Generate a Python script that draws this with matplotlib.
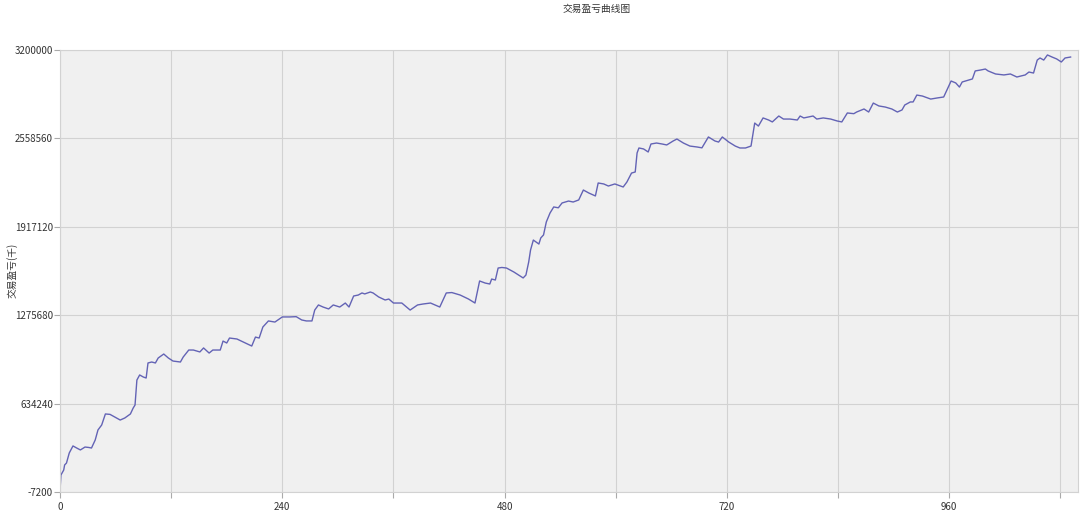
import matplotlib
matplotlib.use("Agg")
import matplotlib.pyplot as plt
from matplotlib.ticker import MultipleLocator

plt.rcParams['font.family'] = ['Noto Sans CJK SC', 'DejaVu Sans']

title = "交易盈亏曲线图"
ylabel = "交易盈亏(千)"

x_ticks = [0, 240, 480, 720, 960]
y_ticks = [-7200, 634240, 1275680, 1917120, 2558560, 3200000]

trade_idx = [
    0, 1, 4, 5, 7, 10, 14, 18, 22, 27, 31, 34, 38, 41, 45, 49, 54, 59, 65, 70,
    76, 79, 81, 83, 86, 90, 93, 95, 99, 103, 106, 112, 117, 122, 130, 133, 139, 144, 151, 155,
    161, 165, 173, 176, 180, 183, 191, 198, 207, 211, 215, 219, 225, 232, 240, 248, 255, 261, 266, 272,
    275, 279, 284, 290, 295, 302, 308, 312, 317, 322, 326, 329, 335, 338, 344, 351, 355, 360, 369, 378,
    386, 392, 400, 410, 417, 423, 432, 441, 448, 453, 459, 464, 466, 470, 473, 477, 482, 490, 500, 503,
    506, 508, 511, 517, 519, 522, 525, 529, 533, 538, 542, 549, 554, 560, 565, 571, 578, 581, 587, 592,
    599, 608, 612, 617, 621, 623, 625, 630, 635, 638, 644, 650, 655, 662, 666, 673, 680, 688, 693, 700,
    707, 711, 715, 722, 729, 734, 740, 746, 750, 754, 759, 765, 769, 776, 781, 788, 796, 799, 803, 808,
    813, 817, 824, 832, 839, 844, 850, 857, 860, 868, 873, 878, 884, 891, 898, 904, 909, 912, 918, 921,
    925, 931, 940, 947, 954, 962, 967, 971, 974, 981, 985, 988, 994, 999, 1002, 1010, 1019, 1026, 1033, 1042,
    1046, 1051, 1055, 1058, 1062, 1066, 1071, 1076, 1081, 1085, 1091,
]

pnl = [
    0, 116000, 152000, 189000, 203000, 276000, 327000, 312000, 298000, 319000,
    316000, 312000, 370000, 443000, 479000, 559000, 556000, 537000, 515000, 530000,
    559000, 602000, 624000, 805000, 842000, 827000, 820000, 929000, 936000, 929000,
    965000, 994000, 965000, 943000, 936000, 972000, 1023000, 1023000, 1009000, 1038000,
    1001000, 1023000, 1023000, 1088000, 1074000, 1110000, 1103000, 1081000, 1052000, 1117000,
    1110000, 1190000, 1234000, 1226000, 1263000, 1263000, 1265000, 1241000, 1234000, 1234000,
    1313000, 1350000, 1335000, 1321000, 1350000, 1335000, 1364000, 1335000, 1415000, 1422000,
    1437000, 1430000, 1444000, 1437000, 1408000, 1386000, 1393000, 1364000, 1364000, 1313000,
    1350000, 1357000, 1364000, 1335000, 1437000, 1440000, 1422000, 1393000, 1364000, 1524000,
    1509000, 1502000, 1538000, 1531000, 1618000, 1622000, 1618000, 1589000, 1546000, 1567000,
    1662000, 1749000, 1821000, 1792000, 1836000, 1858000, 1952000, 2017000, 2061000, 2055000,
    2090000, 2104000, 2097000, 2112000, 2184000, 2162000, 2141000, 2235000, 2228000, 2213000,
    2228000, 2206000, 2242000, 2307000, 2315000, 2453000, 2489000, 2482000, 2460000, 2518000,
    2525000, 2518000, 2511000, 2540000, 2554000, 2525000, 2503000, 2496000, 2490000, 2569000,
    2540000, 2532000, 2569000, 2532000, 2503000, 2489000, 2489000, 2503000, 2670000, 2648000,
    2707000, 2692000, 2678000, 2721000, 2699000, 2699000, 2692000, 2721000, 2707000, 2714000,
    2721000, 2699000, 2707000, 2699000, 2685000, 2678000, 2743000, 2738000, 2750000, 2772000,
    2750000, 2815000, 2794000, 2786000, 2772000, 2750000, 2765000, 2801000, 2823000, 2823000,
    2873000, 2866000, 2844000, 2852000, 2859000, 2975000, 2961000, 2931000, 2968000, 2982000,
    2990000, 3048000, 3055000, 3062000, 3048000, 3026000, 3019000, 3026000, 3004000, 3019000,
    3040000, 3033000, 3127000, 3142000, 3127000, 3164000, 3149000, 3135000, 3113000, 3142000,
    3149000,
]

fig = plt.figure(figsize=(10.8, 5.17), dpi=100)
fig.patch.set_facecolor('white')
ax = fig.add_axes([60/1080, 25/517, 1018/1080, 442/517])
ax.set_facecolor('#f0f0f0')

ax.plot(trade_idx, pnl, color='#6363b5', linewidth=1.0)

ax.set_xlim(0, 1099)
ax.set_ylim(y_ticks[0], y_ticks[-1])
ax.set_xticks(x_ticks)
ax.xaxis.set_minor_locator(MultipleLocator(120))
ax.set_yticks(y_ticks)
ax.set_yticklabels([str(v) for v in y_ticks])

ax.grid(True, which='both', color='#d2d2d2', linewidth=0.8)
ax.set_axisbelow(True)
for s in ax.spines.values():
    s.set_color('#d2d2d2')
    s.set_linewidth(0.8)

ax.tick_params(axis='both', which='both', colors='#aaaaaa', length=4, width=0.8,
               labelcolor='#333333', labelsize=7)
ax.tick_params(axis='y', pad=1)

fig.text(12/1080, 1 - 270/517, ylabel, rotation=90, ha='center', va='center',
         fontsize=7, color='#333333')
fig.text(597/1080, 1 - 9/517, title, ha='center', va='center', fontsize=7, color='#333333')

fig.savefig('out.png', dpi=100)
